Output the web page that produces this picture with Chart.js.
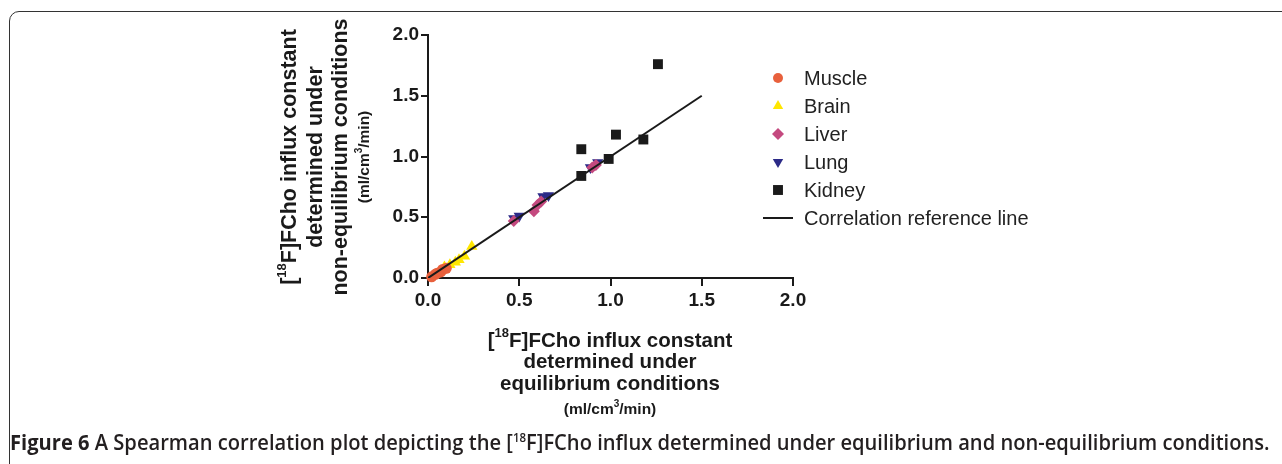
<!DOCTYPE html>
<html>
<head>
    <title>[18F]FCho influx correlation</title>
    <script src="https://cdn.jsdelivr.net/npm/chart.js"></script>
    <style>
        body {
            margin: 0;
            width: 1282px;
            height: 464px;
            overflow: hidden;
            background: #fff;
            position: relative;
            font-family: Arial, "Liberation Sans", sans-serif;
        }
        .frame {
            position: absolute;
            left: 9px;
            top: 11px;
            width: 1320px;
            height: 520px;
            border: 1.6px solid #333;
            border-top-left-radius: 10px;
        }
        .chart-box {
            position: absolute;
            left: 0;
            top: 0;
            width: 1282px;
            height: 430px;
        }
        .caption {
            position: absolute;
            left: 10px;
            top: 428px;
            white-space: nowrap;
            font-family: "Open Sans", sans-serif;
            font-size: 21px;
            font-weight: 600;
            color: #231f20;
            transform-origin: left center;
        }
        .caption b { font-weight: 700; }
        .caption sup { font-size: 12px; line-height: 0; }
    </style>
</head>
<body>
    <div class="frame"></div>
    <div class="chart-box"><canvas id="corrChart"></canvas></div>
    <div class="caption" id="caption"><b>Figure 6</b> A Spearman correlation plot depicting the [<sup>18</sup>F]FCho influx determined under equilibrium and non-equilibrium conditions.</div>

    <script>
        // values
        const muscleX = [0.02, 0.04, 0.05, 0.07, 0.08, 0.10];
        const muscleY = [0.01, 0.03, 0.04, 0.05, 0.07, 0.08];
        const brainX = [0.09, 0.12, 0.15, 0.17, 0.20, 0.24];
        const brainY = [0.09, 0.11, 0.13, 0.15, 0.18, 0.26];
        const liverX = [0.47, 0.58, 0.60, 0.62, 0.90, 0.92];
        const liverY = [0.47, 0.55, 0.60, 0.63, 0.91, 0.93];
        const lungX = [0.47, 0.50, 0.63, 0.66, 0.89, 0.93];
        const lungY = [0.49, 0.51, 0.67, 0.68, 0.91, 0.95];
        const kidneyX = [0.84, 0.84, 0.99, 1.03, 1.18, 1.26];
        const kidneyY = [0.84, 1.06, 0.98, 1.18, 1.14, 1.76];
        const refLineX = [0, 1.5];
        const refLineY = [0, 1.5];

        const axisMin = 0;
        const axisMax = 2.0;
        const tickStep = 0.5;

        const xTitle = [
            [['['], ['18', 'sup'], ['F]FCho influx constant']],
            [['determined under']],
            [['equilibrium conditions']],
            [['(ml/cm'], ['3', 'sup'], ['/min)']]
        ];
        const yTitle = [
            [['['], ['18', 'sup'], ['F]FCho influx constant']],
            [['determined under']],
            [['non-equilibrium conditions']],
            [['(ml/cm'], ['3', 'sup'], ['/min)']]
        ];

        const ink = '#1a1a1a';

        function pts(xs, ys) {
            return xs.map((x, i) => ({ x: x, y: ys[i] }));
        }

        // draw a line of text with superscript bits, centred on (cx, cy)
        function drawRich(ctx, parts, cx, cy, size) {
            const supSize = Math.round(size * 0.62);
            let total = 0;
            parts.forEach(p => {
                ctx.font = 'bold ' + (p[1] ? supSize : size) + 'px Arial, "Liberation Sans"';
                total += ctx.measureText(p[0]).width;
            });
            let x = cx - total / 2;
            parts.forEach(p => {
                const s = p[1] ? supSize : size;
                ctx.font = 'bold ' + s + 'px Arial, "Liberation Sans"';
                ctx.fillText(p[0], x, p[1] ? cy - size * 0.36 : cy);
                x += ctx.measureText(p[0]).width;
            });
        }

        function drawMarker(ctx, style, x, y, r, rot) {
            ctx.beginPath();
            if (style === 'circle') {
                ctx.arc(x, y, r, 0, Math.PI * 2);
            } else if (style === 'triangle') {
                const dir = rot === 180 ? -1 : 1;
                ctx.moveTo(x, y - dir * r);
                ctx.lineTo(x + r * 0.866, y + dir * r * 0.5);
                ctx.lineTo(x - r * 0.866, y + dir * r * 0.5);
            } else if (style === 'rectRot') {
                ctx.moveTo(x, y - r);
                ctx.lineTo(x + r, y);
                ctx.lineTo(x, y + r);
                ctx.lineTo(x - r, y);
            } else {
                const s = r * Math.SQRT1_2;
                ctx.rect(x - s, y - s, 2 * s, 2 * s);
            }
            ctx.closePath();
            ctx.fill();
        }

        const annotations = {
            id: 'annotations',
            afterDraw(chart) {
                const ctx = chart.ctx;
                ctx.save();
                ctx.fillStyle = ink;
                ctx.textBaseline = 'middle';
                ctx.textAlign = 'left';

                // x axis title
                const xRows = [341, 362, 384, 410];
                xTitle.forEach((line, i) => {
                    drawRich(ctx, line, 610, xRows[i], i === 3 ? 15.5 : 20.5);
                });

                // y axis title, rotated
                ctx.save();
                ctx.translate(0, 157);
                ctx.rotate(-Math.PI / 2);
                const yCols = [290, 316, 341, 365];
                yTitle.forEach((line, i) => {
                    ctx.save();
                    ctx.translate(0, yCols[i]);
                    drawRich(ctx, line, 0, 0, i === 3 ? 15.5 : 21.5);
                    ctx.restore();
                });
                ctx.restore();

                // legend
                ctx.font = '20px Arial, "Liberation Sans"';
                chart.data.datasets.forEach((ds, i) => {
                    const y = 78 + i * 28;
                    ctx.fillStyle = ds.pointBackgroundColor || ds.borderColor;
                    if (ds.showLine) {
                        ctx.strokeStyle = ds.borderColor;
                        ctx.lineWidth = 2;
                        ctx.beginPath();
                        ctx.moveTo(763, y);
                        ctx.lineTo(793, y);
                        ctx.stroke();
                    } else {
                        drawMarker(ctx, ds.pointStyle, 778, y, ds.legendRadius, ds.pointRotation);
                    }
                    ctx.fillStyle = '#222';
                    ctx.fillText(ds.label, 804, y + 1);
                });
                ctx.restore();
            }
        };

        const ctx = document.getElementById('corrChart').getContext('2d');
        const corrChart = new Chart(ctx, {
            type: 'scatter',
            data: {
                datasets: [
                    {
                        label: 'Muscle',
                        data: pts(muscleX, muscleY),
                        pointStyle: 'circle',
                        pointRadius: 5.5,
                        legendRadius: 5,
                        pointBackgroundColor: '#e8603c',
                        pointBorderWidth: 0,
                        clip: false,
                        order: 2
                    },
                    {
                        label: 'Brain',
                        data: pts(brainX, brainY),
                        pointStyle: 'triangle',
                        pointRadius: 6.5,
                        legendRadius: 6,
                        pointBackgroundColor: '#ffe600',
                        pointBorderWidth: 0,
                        clip: false,
                        order: 2
                    },
                    {
                        label: 'Liver',
                        data: pts(liverX, liverY),
                        pointStyle: 'rectRot',
                        pointRadius: 6,
                        legendRadius: 6,
                        pointBackgroundColor: '#c4497f',
                        pointBorderWidth: 0,
                        order: 2
                    },
                    {
                        label: 'Lung',
                        data: pts(lungX, lungY),
                        pointStyle: 'triangle',
                        pointRotation: 180,
                        pointRadius: 6.5,
                        legendRadius: 6,
                        pointBackgroundColor: '#2b2a87',
                        pointBorderWidth: 0,
                        order: 2
                    },
                    {
                        label: 'Kidney',
                        data: pts(kidneyX, kidneyY),
                        pointStyle: 'rect',
                        pointRadius: 7,
                        legendRadius: 7,
                        pointBackgroundColor: ink,
                        pointBorderWidth: 0,
                        order: 0
                    },
                    {
                        label: 'Correlation reference line',
                        data: pts(refLineX, refLineY),
                        showLine: true,
                        borderColor: ink,
                        borderWidth: 2,
                        pointRadius: 0,
                        order: 1
                    }
                ]
            },
            options: {
                responsive: true,
                maintainAspectRatio: false,
                animation: false,
                layout: {
                    padding: { left: 0, top: 35, right: 489, bottom: 0 }
                },
                plugins: {
                    legend: { display: false },
                    tooltip: { enabled: false }
                },
                scales: {
                    x: {
                        type: 'linear',
                        min: axisMin,
                        max: axisMax,
                        afterFit: s => { s.height = 152; },
                        border: { display: true, color: ink, width: 2 },
                        grid: { drawOnChartArea: false, drawTicks: true, tickLength: 8, color: ink, lineWidth: 2 },
                        ticks: {
                            stepSize: tickStep,
                            padding: 3,
                            color: ink,
                            font: { family: 'Arial, "Liberation Sans"', size: 19, weight: 'bold' },
                            callback: v => v.toFixed(1)
                        }
                    },
                    y: {
                        type: 'linear',
                        min: axisMin,
                        max: axisMax,
                        afterFit: s => { s.width = 428; },
                        border: { display: true, color: ink, width: 2 },
                        grid: { drawOnChartArea: false, drawTicks: true, tickLength: 7, color: ink, lineWidth: 2 },
                        ticks: {
                            stepSize: tickStep,
                            padding: 2,
                            color: ink,
                            font: { family: 'Arial, "Liberation Sans"', size: 19, weight: 'bold' },
                            callback: v => v.toFixed(1)
                        }
                    }
                }
            },
            plugins: [annotations]
        });

        // stretch caption to the width of the frame
        const cap = document.getElementById('caption');
        cap.style.transform = 'scaleX(' + (1260 / cap.offsetWidth) + ')';
    </script>
</body>
</html>
